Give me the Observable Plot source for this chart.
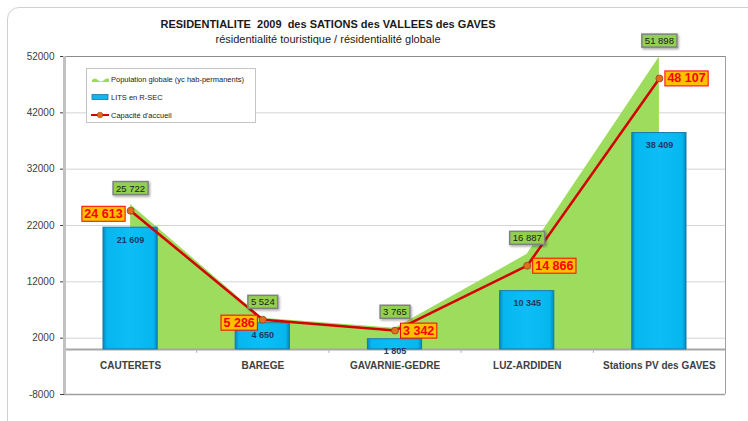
<!DOCTYPE html>
<html>
<head>
<meta charset="utf-8">
<script src="https://cdn.jsdelivr.net/npm/d3@7"></script>
<script src="https://cdn.jsdelivr.net/npm/@observablehq/plot@0.6"></script>
<style>
  html, body { margin: 0; padding: 0; background: #fff; }
  #wrap { position: relative; width: 748px; height: 421px; overflow: hidden; font-family: "Liberation Sans", Arial, sans-serif; }
  #panel { position: absolute; left: 7px; top: 7px; width: 800px; height: 460px; border: 1px solid #cfcfcf; border-radius: 12px; }
  #title { position: absolute; left: 0; width: 656px; top: 18px; text-align: center; font-weight: bold; font-size: 11px; color: #1a1a1a; white-space: pre; }
  #subtitle { position: absolute; left: 0; width: 656px; top: 33px; text-align: center; font-size: 11px; color: #1a1a1a; }
  #legend { position: absolute; left: 86px; top: 68px; width: 168px; height: 53px; background: #fff; border: 1px solid #c4c4c4; font-size: 7.5px; color: #222; }
  .lrow { position: absolute; left: 4px; height: 10px; display: flex; align-items: center; }
  .lrow span { margin-left: 2px; }
  #chart { position: absolute; left: 0; top: 0; }
</style>
</head>
<body>
<div id="wrap">
  <div id="panel"></div>
  <div id="chart"></div>
  <div id="title">RESIDENTIALITE  2009  des SATIONS des VALLEES des GAVES</div>
  <div id="subtitle">résidentialité touristique / résidentialité globale</div>
  <div id="legend">
    <div class="lrow" style="top:5px"><svg width="18" height="8"><path d="M1,5 Q4,2 7,5 T13,5 T18,4 L18,7 L1,7Z" fill="#9bdc5a"/></svg><span>Population globale (yc hab-permanents)</span></div>
    <div class="lrow" style="top:23px"><svg width="18" height="8"><rect x="1" y="1.5" width="16" height="5" fill="#18b4ec" stroke="#1479a8" stroke-width="0.8"/></svg><span>LITS en R-SEC</span></div>
    <div class="lrow" style="top:41px"><svg width="18" height="8"><line x1="0" y1="4" x2="18" y2="4" stroke="#d40000" stroke-width="2"/><circle cx="9" cy="4" r="2.8" fill="#e07020" stroke="#a04010" stroke-width="0.6"/></svg><span>Capacité d'accueil</span></div>
  </div>
</div>
<script>
const categories = ["CAUTERETS", "BAREGE", "GAVARNIE-GEDRE", "LUZ-ARDIDEN", "Stations PV des GAVES"];
const population = [25722, 5524, 3765, 16887, 51898];
const lits = [21609, 4650, 1805, 10345, 38409];
const capacite = [24613, 5286, 3342, 14866, 48107];
const yTicks = [-8000, 2000, 12000, 22000, 32000, 42000, 52000];

const rows = categories.map((cat, i) => ({i, cat, pop: population[i], lits: lits[i], cap: capacite[i]}));
const fmt = n => d3.format(",")(n).replace(/,/g, " ");
const halfBar = 0.205;

const plot = Plot.plot({
  width: 748,
  height: 421,
  marginLeft: 64,
  marginRight: 23,
  marginTop: 56,
  marginBottom: 27,
  style: {fontFamily: "Liberation Sans, Arial, sans-serif", color: "#404040", background: "transparent", overflow: "visible"},
  x: {domain: [-0.5, 4.5], axis: null},
  y: {domain: [-8000, 52000], ticks: yTicks, tickFormat: d => String(d), tickSize: 4, tickPadding: 6, label: null, fontSize: 10},
  marks: [
    Plot.ruleY(yTicks.slice(1), {stroke: "#d4d4d4", strokeWidth: 1}),
    Plot.ruleY([52000], {stroke: "#8c8c8c", strokeWidth: 1}),
    Plot.ruleY([-8000], {stroke: "#a0a0a0", strokeWidth: 1.5}),
    Plot.ruleX([4.5], {stroke: "#a0a0a0", strokeWidth: 1}),
    Plot.areaY(rows, {x: "i", y: "pop", fill: "#9ddc5c"}),
    Plot.ruleY([0], {stroke: "#a6a6a6", strokeWidth: 2}),
    Plot.ruleX([0.5, 1.5, 2.5, 3.5], {y1: 0, y2: -700, stroke: "#b0b0b0", strokeWidth: 1}),
    Plot.rectY(rows, {x1: d => d.i - halfBar, x2: d => d.i + halfBar, y1: 0, y2: "lits", fill: "url(#barGrad)", stroke: "#137aab", strokeWidth: 1}),
    Plot.ruleX([-0.5], {stroke: "#c2c2c2", strokeWidth: 3}),
    Plot.line(rows, {x: "i", y: "cap", stroke: "#d40000", strokeWidth: 2.5}),
    Plot.dot(rows, {x: "i", y: "cap", r: 3.5, fill: "#e07020", stroke: "#a04010", strokeWidth: 0.8}),
    Plot.text(rows, {x: "i", y: 0, text: "cat", dy: 16, fontWeight: "bold", fontSize: 10, fill: "#404040"}),
    Plot.text(rows, {x: "i", y: "lits", text: d => fmt(d.lits), dy: 12, fontWeight: "bold", fontSize: 9, fill: "#1f3864"}),
    Plot.text(rows, {x: "i", y: "pop", text: d => fmt(d.pop), dy: -16, fontSize: 9.5, fill: "#1a1a1a"}),
    Plot.text(rows.filter(d => d.i < 2), {x: "i", y: "cap", text: d => fmt(d.cap), dx: -8, dy: 3, textAnchor: "end", fontWeight: "bold", fontSize: 12.5, fill: "#ff0000"}),
    Plot.text(rows.filter(d => d.i >= 2), {x: "i", y: "cap", text: d => fmt(d.cap), dx: 8, dy: 0, textAnchor: "start", fontWeight: "bold", fontSize: 12.5, fill: "#ff0000"})
  ]
});

document.getElementById("chart").appendChild(plot);

// defs: bar gradient and shadow
const ns = "http://www.w3.org/2000/svg";
const defs = document.createElementNS(ns, "defs");
defs.innerHTML = `
  <linearGradient id="barGrad" x1="0" y1="0" x2="1" y2="0">
    <stop offset="0" stop-color="#0a86b8"/>
    <stop offset="0.07" stop-color="#05b6ef"/>
    <stop offset="0.5" stop-color="#0dbdf6"/>
    <stop offset="0.93" stop-color="#05b6ef"/>
    <stop offset="1" stop-color="#0a86b8"/>
  </linearGradient>
  <filter id="shadow" x="-20%" y="-20%" width="150%" height="160%">
    <feDropShadow dx="1.2" dy="1.5" stdDeviation="0.8" flood-color="#000" flood-opacity="0.35"/>
  </filter>`;
plot.insertBefore(defs, plot.firstChild);

// label boxes
const groups = plot.querySelectorAll('g[aria-label="text"]');
function boxes(g, fill, stroke, sw, padX, padY, shadow) {
  g.querySelectorAll("text").forEach(t => {
    const b = t.getBBox();
    const r = document.createElementNS(ns, "rect");
    r.setAttribute("x", b.x - padX);
    r.setAttribute("y", b.y - padY);
    r.setAttribute("width", b.width + 2 * padX);
    r.setAttribute("height", b.height + 2 * padY);
    r.setAttribute("fill", fill);
    r.setAttribute("stroke", stroke);
    r.setAttribute("stroke-width", sw);
    if (shadow) r.setAttribute("filter", "url(#shadow)");
    const tr = t.getAttribute("transform");
    if (tr) r.setAttribute("transform", tr);
    t.parentNode.insertBefore(r, t);
  });
}
boxes(groups[2], "#92d050", "#808080", 1.5, 3, 1, true);
boxes(groups[3], "#ffc000", "#ff0000", 1, 2.5, 0.5, false);
boxes(groups[4], "#ffc000", "#ff0000", 1, 2.5, 0.5, false);
</script>
</body>
</html>
